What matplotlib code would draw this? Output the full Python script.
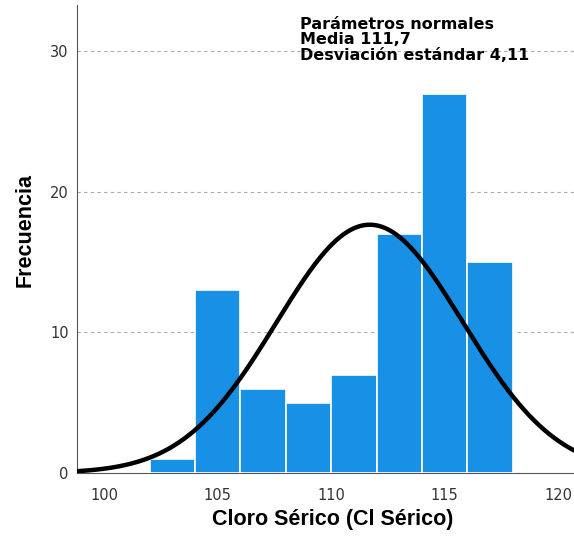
import numpy as np
import matplotlib
matplotlib.use("Agg")
import matplotlib.pyplot as plt

plt.rcParams['font.family'] = ['Liberation Sans', 'DejaVu Sans']

bin_edges = [102, 104, 106, 108, 110, 112, 114, 116, 118]
counts = [1, 13, 6, 5, 7, 17, 27, 15]
mean = 111.7
sd = 4.11
x_ticks = [100, 105, 110, 115, 120]
y_ticks = [0, 10, 20, 30]

fig = plt.figure(figsize=(5.74, 5.38), dpi=100)
ax = fig.add_axes([77/574, 65/538, 1 - 77/574, (473-5)/538])

lefts = bin_edges[:-1]
widths = np.diff(bin_edges)
ax.bar(lefts, counts, width=widths, align='edge', color='#1790e6',
       edgecolor='white', linewidth=1.2, zorder=3)

n = sum(counts)
bw = widths[0]
xs = np.linspace(98.8, 120.7, 400)
ys = n * bw * np.exp(-0.5 * ((xs - mean) / sd) ** 2) / (sd * np.sqrt(2 * np.pi))
ax.plot(xs, ys, color='black', lw=3.2, zorder=4, solid_capstyle='round')

ax.set_xlim(98.8, 120.7)
ax.set_ylim(0, 33.3)
ax.set_xticks(x_ticks)
ax.set_yticks(y_ticks)
ax.tick_params(length=0, labelsize=10.5, colors='#333333', pad=6)
ax.tick_params(axis='x', pad=11)
for lab in ax.get_xticklabels() + ax.get_yticklabels():
    lab.set_family(['DejaVu Sans'])
for v in [10, 20, 30]:
    ax.axhline(v, color='#aaaaaa', lw=0.8, ls=(0, (3, 3)), zorder=1)

for s in ['top', 'right']:
    ax.spines[s].set_visible(False)
ax.spines['left'].set_color('#555555')
ax.spines['bottom'].set_color('#555555')

ax.set_xlabel('Cloro Sérico (Cl Sérico)', fontsize=15.5, fontweight='bold', va='center')
ax.xaxis.set_label_coords(0.515, -0.100)
ax.set_ylabel('Frecuencia', fontsize=15.5, fontweight='bold', va='center')
ax.yaxis.set_label_coords(-0.105, 0.519)

fig.text(300/574, 1 - 17/538,
         'Parámetros normales\nMedia 111,7\nDesviación estándar 4,11',
         fontsize=11.5, fontweight='bold', va='top', ha='left', linespacing=1.03,
         family=['DejaVu Sans'], zorder=5)

fig.savefig('out.png', dpi=100)
